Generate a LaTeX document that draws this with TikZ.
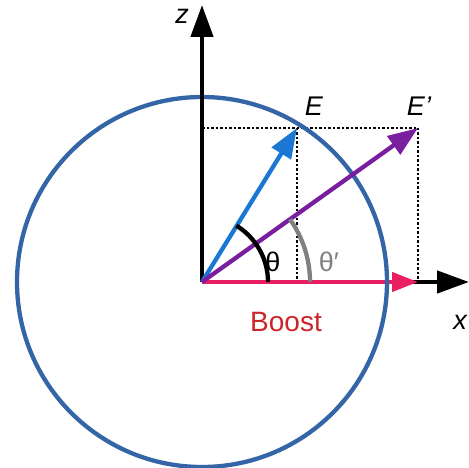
\documentclass[tikz,border=0pt]{standalone}
\usepackage{fontspec}
\setmainfont{Liberation Sans}
\usetikzlibrary{arrows.meta, positioning}
\definecolor{ringblue}{RGB}{52,101,166}
\definecolor{vecblue}{RGB}{26,120,212}
\definecolor{vecpurple}{RGB}{122,30,160}
\definecolor{boostpink}{RGB}{233,30,99}
\definecolor{boostred}{RGB}{204,36,40}

\begin{document}
\begin{tikzpicture}[
    x=1pt, y=1pt,
    axis/.style={line width=4.5pt, -{Triangle[length=32pt, width=22pt]}},
    vec/.style={line width=4.3pt, draw=#1, -{Triangle[length=30pt, width=22pt]}},
    guide/.style={line width=1.1pt, dash pattern=on 2.5pt off 2pt},
    anglearc/.style={line width=4.3pt, draw=#1},
    lbl/.style={font=\fontsize{27}{32}\selectfont, inner sep=0pt}
]
    \useasboundingbox (0,0) rectangle (469,468);

    \coordinate (O)     at (202,186);
    \coordinate (ztip)  at (202,463);
    \coordinate (xtip)  at (469,186);
    \coordinate (Etip)  at (297,340);
    \coordinate (Eptip) at (418,340);
    \coordinate (btip)  at (418,186);
    \coordinate (zmark) at (202,340);
    \coordinate (Efoot) at (297,186);

    % projections
    \draw[guide] (zmark) -- (Eptip);
    \draw[guide] (Etip) -- (Efoot);
    \draw[guide] (Eptip) -- (btip);

    % axes
    \draw[axis] (O) -- (xtip);
    \draw[vec=boostpink, -{Triangle[length=26pt, width=19pt]}] (O) -- (btip);
    \draw[ringblue, line width=4.3pt] (O) circle[radius=185pt];
    \draw[axis] (O) -- (ztip);

    % vectors
    \draw[vec=vecblue]   (O) -- (Etip);
    \draw[vec=vecpurple] (O) -- (Eptip);

    % angles
    \draw[anglearc=black] ([shift={(0:66pt)}]O) arc[start angle=0, end angle=58.6, radius=66pt];
    \draw[anglearc=gray]  ([shift={(0:108pt)}]O) arc[start angle=0, end angle=35.5, radius=108pt];

    \node[lbl] (zlab)     at (182,452) {\itshape z};
    \node[lbl] (xlab)     at (460,146) {\itshape x};
    \node[lbl] (Elab)     at (314,362) {\itshape E};
    \node[lbl] (Eplab)    at (419,362) {\itshape E’};
    \node[lbl] (thlab)    at (273,206) {θ};
    \node[lbl, gray] (thplab) at (329,206) {θ′};
    \node[lbl, boostred, font=\fontsize{28}{32}\selectfont] (boostlab) at (286,146) {Boost};
\end{tikzpicture}
\end{document}
